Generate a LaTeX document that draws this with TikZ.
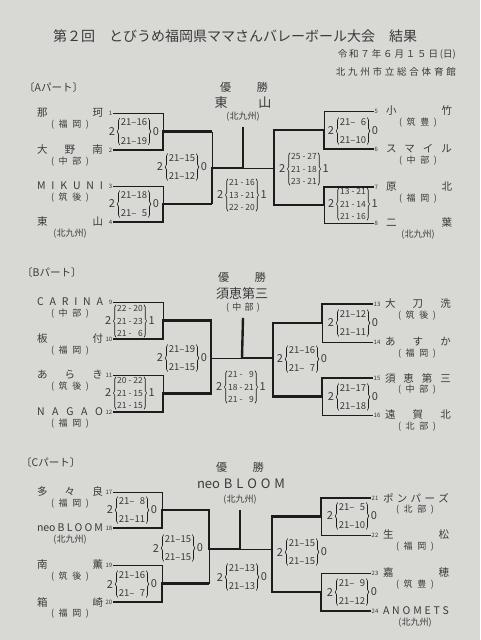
\documentclass[tikz,border=0pt]{standalone}
\usepackage{fontspec}
\setmainfont{Noto Sans CJK JP}
\usetikzlibrary{positioning, decorations.pathreplacing}
\definecolor{paper}{HTML}{D8D8D5}
\definecolor{ink}{HTML}{3A3A3A}
\definecolor{rule}{HTML}{1C1C1C}

\begin{document}
\begin{tikzpicture}[x=1pt, y=-1pt, text=ink,
    team/.style={inner sep=0pt, font=\fontsize{10.5}{12}\selectfont},
    area/.style={inner sep=0pt, font=\fontsize{9}{10}\selectfont},
    seed/.style={inner sep=0.5pt, font=\fontsize{6}{6}\selectfont},
    sets/.style={inner sep=0.5pt, font=\fontsize{11}{12}\selectfont},
    twoset/.style={align=center, inner xsep=1pt, inner ysep=0.5pt, font=\fontsize{9.5}{18.5}\selectfont},
    threeset/.style={align=center, inner xsep=1pt, inner ysep=0.5pt, font=\fontsize{8.5}{12.5}\selectfont},
    scorebrace/.style={draw=rule, line width=0.6pt, decorate, decoration={brace, amplitude=2.5pt}},
    win/.style={draw=rule, line width=2.4pt},
    lose/.style={draw=rule, line width=0.8pt}]

  \fill[paper] (0,0) rectangle (480,640);
  \useasboundingbox (0,0) rectangle (480,640);

  \node[font=\fontsize{14}{16}\selectfont] (title) at (235,36)
    {第２回　とびうめ福岡県ママさんバレーボール大会　結果};
  \node[font=\fontsize{9.5}{10}\selectfont, anchor=east, inner sep=0pt] (date) at (456,54)
    {\makebox[118pt][s]{令\hfill 和\hfill ７\hfill 年\hfill ６\hfill 月\hfill １\hfill ５\hfill 日\hfill (日)}};
  \node[font=\fontsize{9.5}{10}\selectfont, anchor=east, inner sep=0pt] (hall) at (456,72)
    {\makebox[120pt][s]{北\hfill 九\hfill 州\hfill 市\hfill 立\hfill 総\hfill 合\hfill 体\hfill 育\hfill 館}};

  \node[font=\fontsize{10.5}{12}\selectfont, anchor=west, inner sep=0pt] (partA) at (24,88) {〔Aパート〕};
  \node[font=\fontsize{10.5}{12}\selectfont, anchor=west, inner sep=0pt] (partB) at (22,273) {〔Bパート〕};
  \node[font=\fontsize{10.5}{12}\selectfont, anchor=west, inner sep=0pt] (partC) at (21,463) {〔Cパート〕};

  \node[team, font=\fontsize{11}{12}\selectfont] (winA) at (244,87) {\makebox[48pt][s]{優\hfill 勝}};
  \node[team, font=\fontsize{13}{14}\selectfont] (champA) at (243,103) {\makebox[57pt][s]{東\hfill 山}};
  \node[area] (champAarea) at (243,117) {(北九州)};
  \node[team, font=\fontsize{11}{12}\selectfont] (winB) at (242,277) {\makebox[48pt][s]{優\hfill 勝}};
  \node[team, font=\fontsize{13}{14}\selectfont] (champB) at (242,294) {須恵第三};
  \node[area] (champBarea) at (243,308) {\makebox[34pt][s]{(\hfill 中\hfill 部\hfill )}};
  \node[team, font=\fontsize{11}{12}\selectfont] (winC) at (240,467) {\makebox[48pt][s]{優\hfill 勝}};
  \node[team, font=\fontsize{13}{14}\selectfont] (champC) at (241,484) {\makebox[88pt][s]{neo\hfill B\hfill L\hfill O\hfill O\hfill M}};
  \node[area] (champCarea) at (240,500) {(北九州)};

  \foreach \n/\y/\nm/\rg in {
      1/113/{那\hfill 珂}/{(\hfill 福\hfill 岡\hfill )},
      2/150/{大\hfill 野\hfill 南}/{(\hfill 中\hfill 部\hfill )},
      3/186/{M\hfill I\hfill K\hfill U\hfill N\hfill I}/{(\hfill 筑\hfill 後\hfill )},
      4/222/{東\hfill 山}/{\hfil (北九州)\hfil},
      9/302/{C\hfill A\hfill R\hfill I\hfill N\hfill A}/{(\hfill 中\hfill 部\hfill )},
      10/339/{板\hfill 付}/{(\hfill 福\hfill 岡\hfill )},
      11/375/{あ\hfill ら\hfill き}/{(\hfill 筑\hfill 後\hfill )},
      12/412/{N\hfill A\hfill G\hfill A\hfill O}/{(\hfill 福\hfill 岡\hfill )},
      17/492/{多\hfill 々\hfill 良}/{(\hfill 福\hfill 岡\hfill )},
      18/528/{neo\hfill B\hfill L\hfill O\hfill O\hfill M}/{\hfil (北九州)\hfil},
      19/565/{南\hfill 薫}/{(\hfill 筑\hfill 後\hfill )},
      20/602/{箱\hfill 崎}/{(\hfill 福\hfill 岡\hfill )}} {
    \node[seed, anchor=east] (n\n) at (113,\y) {\n};
    \node[team] (t\n) at (70,\y) {\makebox[66pt][s]{\nm}};
    \node[area] (r\n) at (70,\y+12) {\makebox[38pt][s]{\rg}};
  }

  \foreach \n/\x/\y/\nm/\rg in {
      5/374/111/{小\hfill 竹}/{(\hfill 筑\hfill 豊\hfill )},
      6/374/149/{ス\hfill マ\hfill イ\hfill ル}/{(\hfill 中\hfill 部\hfill )},
      7/374/187/{原\hfill 北}/{(\hfill 福\hfill 岡\hfill )},
      8/374/223/{二\hfill 葉}/{\hfil (北九州)\hfil},
      13/373/304/{大\hfill 刀\hfill 洗}/{(\hfill 筑\hfill 後\hfill )},
      14/373/342/{あ\hfill す\hfill か}/{(\hfill 福\hfill 岡\hfill )},
      15/373/378/{須\hfill 恵\hfill 第\hfill 三}/{(\hfill 中\hfill 部\hfill )},
      16/373/415/{遠\hfill 賀\hfill 北}/{(\hfill 北\hfill 部\hfill )},
      21/371/498/{ポ\hfill ン\hfill パ\hfill ー\hfill ズ}/{(\hfill 北\hfill 部\hfill )},
      22/371/535/{生\hfill 松}/{(\hfill 福\hfill 岡\hfill )},
      23/371/573/{嘉\hfill 穂}/{(\hfill 筑\hfill 豊\hfill )},
      24/371/611/{A\hfill N\hfill O\hfill M\hfill E\hfill T\hfill S}/{\hfil (北九州)\hfil}} {
    \node[seed, anchor=west] (n\n) at (\x,\y) {\n};
    \node[team] (t\n) at (\x+45,\y) {\makebox[66pt][s]{\nm}};
    \node[area] (r\n) at (\x+44,\y+12) {\makebox[38pt][s]{\rg}};
  }

  \node[twoset]   (sa1) at (134,131.5) {21–16\\21–19};
  \node[twoset]   (sa2) at (134,204)   {21–18\\21–\phantom{1}5};
  \node[twoset]   (saL) at (182,167)   {21–15\\21–12};
  \node[threeset] (saF) at (242,195)   {21 - 16\\13 - 21\\22 - 20};
  \node[threeset] (saR) at (304,169)   {25 - 27\\21 - 18\\23 - 21};
  \node[twoset]   (sa3) at (353,131)   {21–\phantom{1}6\\21–10};
  \node[threeset] (sa4) at (353,204)   {13 - 21\\21 - 14\\21 - 16};

  \node[threeset] (sb1) at (130,321)   {22 - 20\\21 - 23\\21 - \phantom{1}6};
  \node[threeset] (sb2) at (130,393)   {20 - 22\\21 - 15\\21 - 15};
  \node[twoset]   (sbL) at (182,358)   {21–19\\21–15};
  \node[threeset] (sbF) at (241,387)   {21 - \phantom{1}9\\18 - 21\\21 - \phantom{1}9};
  \node[twoset]   (sbR) at (302,359)   {21–16\\21–\phantom{1}7};
  \node[twoset]   (sb3) at (353,323)   {21–12\\21–11};
  \node[twoset]   (sb4) at (353,397)   {21–17\\21–18};

  \node[twoset]   (sc1) at (132,510)   {21–\phantom{1}8\\21–11};
  \node[twoset]   (sc2) at (132,584)   {21–16\\21–\phantom{1}7};
  \node[twoset]   (scL) at (178,548)   {21–15\\21–15};
  \node[twoset]   (scF) at (242,577)   {21–13\\21–13};
  \node[twoset]   (scR) at (302,552)   {21–15\\21–15};
  \node[twoset]   (sc3) at (352,516)   {21–\phantom{1}5\\21–10};
  \node[twoset]   (sc4) at (352,592)   {21–\phantom{1}9\\21–12};

  \foreach \s/\l in {sa1/0,sa2/0,saL/0,saF/1,saR/1,sa3/0,sa4/1,
                     sb1/1,sb2/1,sbL/0,sbF/1,sbR/0,sb3/0,sb4/0,
                     sc1/0,sc2/0,scL/0,scF/0,scR/0,sc3/0,sc4/0} {
    \draw[scorebrace] (\s.south west) -- (\s.north west);
    \draw[scorebrace] (\s.north east) -- (\s.south east);
    \node[sets, left=4pt of \s] (\s-w) {2};
    \node[sets, right=4pt of \s] (\s-l) {\l};
  }

  \coordinate (aL1) at (163,131.5);
  \coordinate (aL2) at (163,204);
  \coordinate (aLF) at (212,168);
  \coordinate (aC)  at (243,168);
  \coordinate (aRF) at (274,168);
  \coordinate (aR1) at (324,130);
  \coordinate (aR2) at (324,205);
  \draw[lose] (n1.east) -| (aL1);
  \draw[win]  (n2.east) -| (aL1) -- (aL1 -| aLF);
  \draw[lose] (n3.east) -| (aL2);
  \draw[win]  (n4.east) -| (aL2) -- (aL2 -| aLF);
  \draw[lose] (aL1 -| aLF) -- (aLF);
  \draw[win]  (aL2 -| aLF) -- (aLF) -- (aC);
  \draw[lose] (n5.west) -| (aR1);
  \draw[win]  (n6.west) -| (aR1) -- (aR1 -| aRF) -- (aRF);
  \draw[win]  (n7.west) -| (aR2) -- (aR2 -| aRF) -- (aRF);
  \draw[lose] (n8.west) -| (aR2);
  \draw[lose] (aRF) -- (aC);
  \draw[win]  ([yshift=-5pt]champAarea.south) -- (aC);

  \coordinate (bL1) at (163,320.5);
  \coordinate (bL2) at (163,393.5);
  \coordinate (bLF) at (211,358);
  \coordinate (bC)  at (242,358);
  \coordinate (bRF) at (273,358);
  \coordinate (bR1) at (322,323);
  \coordinate (bR2) at (322,396.5);
  \draw[lose] (n9.east) -| (bL1);
  \draw[win]  (n10.east) -| (bL1) -- (bL1 -| bLF) -- (bLF);
  \draw[lose] (n11.east) -| (bL2);
  \draw[win]  (n12.east) -| (bL2) -- (bL2 -| bLF) -- (bLF);
  \draw[lose] (bLF) -- (bC);
  \draw[win]  (n13.west) -| (bR1) -- (bR1 -| bRF) -- (bRF);
  \draw[lose] (n14.west) -| (bR1);
  \draw[win]  (n15.west) -| (bR2) -- (bR2 -| bRF) -- (bRF) -- (bC);
  \draw[lose] (n16.west) -| (bR2);
  \draw[win]  ([yshift=-5pt]champBarea.south) -- (bC);

  \coordinate (cL1) at (162,510);
  \coordinate (cL2) at (162,583.5);
  \coordinate (cLF) at (209,549);
  \coordinate (cC)  at (240,549);
  \coordinate (cRF) at (272,549);
  \coordinate (cR1) at (321,516.5);
  \coordinate (cR2) at (321,592);
  \draw[lose] (n17.east) -| (cL1);
  \draw[win]  (n18.east) -| (cL1) -- (cL1 -| cLF) -- (cLF) -- (cC);
  \draw[lose] (n19.east) -| (cL2);
  \draw[win]  (n20.east) -| (cL2) -- (cL2 -| cLF);
  \draw[lose] (cL2 -| cLF) -- (cLF);
  \draw[win]  (n21.west) -| (cR1) -- (cR1 -| cRF) -- (cRF);
  \draw[lose] (n22.west) -| (cR1);
  \draw[lose] (n23.west) -| (cR2);
  \draw[win]  (n24.west) -| (cR2) -- (cR2 -| cRF) -- (cRF);
  \draw[lose] (cRF) -- (cC);
  \draw[win]  ([yshift=-5pt]champCarea.south) -- (cC);
\end{tikzpicture}
\end{document}
